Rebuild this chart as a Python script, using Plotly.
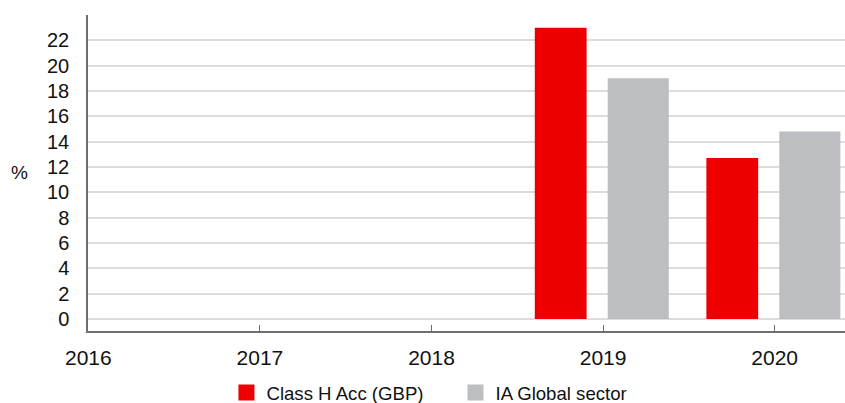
import plotly.graph_objects as go

years = [2019, 2020]
class_h = [23.0, 12.7]
ia_global = [19.0, 14.8]
series_names = ["Class H Acc (GBP)", "IA Global sector"]
tick_years = [2016, 2017, 2018, 2019, 2020]
tick_labels = ["2016", "2017", "2018", "2019", "2020"]
y_ticks = list(range(0, 23, 2))

RED = "#ee0000"
GREY = "#bdbec2"
FONT = "Liberation Sans, Arial, sans-serif"

fig = go.Figure()
fig.add_trace(go.Bar(x=years, y=class_h, name=series_names[0], showlegend=False,
                     marker=dict(color=RED, line=dict(width=0)),
                     offset=-0.398, width=0.302))
fig.add_trace(go.Bar(x=years, y=ia_global, name=series_names[1], showlegend=False,
                     marker=dict(color=GREY, line=dict(width=0)),
                     offset=0.027, width=0.356))
# legend entries with larger square swatches
for nm, col in zip(series_names, [RED, GREY]):
    fig.add_trace(go.Scatter(x=[None], y=[None], mode="markers", name=nm,
                             marker=dict(symbol="square", size=16, color=col)))

fig.update_layout(
    width=845, height=403,
    margin=dict(l=88, r=0, t=15, b=72, autoexpand=False),
    plot_bgcolor="white", paper_bgcolor="white",
    font=dict(family=FONT, size=19, color="#111"),
    barmode="overlay",
    showlegend=True,
    legend=dict(orientation="h", xref="container", yref="container",
                x=0.268, xanchor="left", y=0.025, yanchor="middle",
                font=dict(size=18.6, color="#111"), traceorder="normal",
                itemwidth=30, entrywidth=184, tracegroupgap=0,
                bgcolor="rgba(0,0,0,0)"),
    xaxis=dict(range=[2015.998, 2020.41], tickmode="array", tickvals=tick_years,
               ticktext=tick_labels, showgrid=False, zeroline=False,
               showline=True, linecolor="#6e6e6e", linewidth=1.5,
               ticks="inside", ticklen=6, tickcolor="#6e6e6e", tickwidth=1,
               tickfont=dict(size=21), ticklabelstandoff=7, automargin=False),
    yaxis=dict(range=[-0.95, 24], tickmode="array", tickvals=y_ticks,
               showgrid=True, gridcolor="#dcdcdc", gridwidth=1.5,
               zeroline=False, showline=True, linecolor="#6e6e6e", linewidth=1.5,
               ticks="", tickfont=dict(size=20), ticklabelstandoff=13,
               automargin=False),
)
fig.add_annotation(text="%", xref="paper", yref="paper", x=-0.0899, y=0.503,
                   xanchor="center", yanchor="middle", showarrow=False,
                   font=dict(size=19, color="#111"))

fig.write_html("out.html", config={"displayModeBar": False},
               post_script="document.body.style.margin='0';document.body.style.overflow='hidden';")
